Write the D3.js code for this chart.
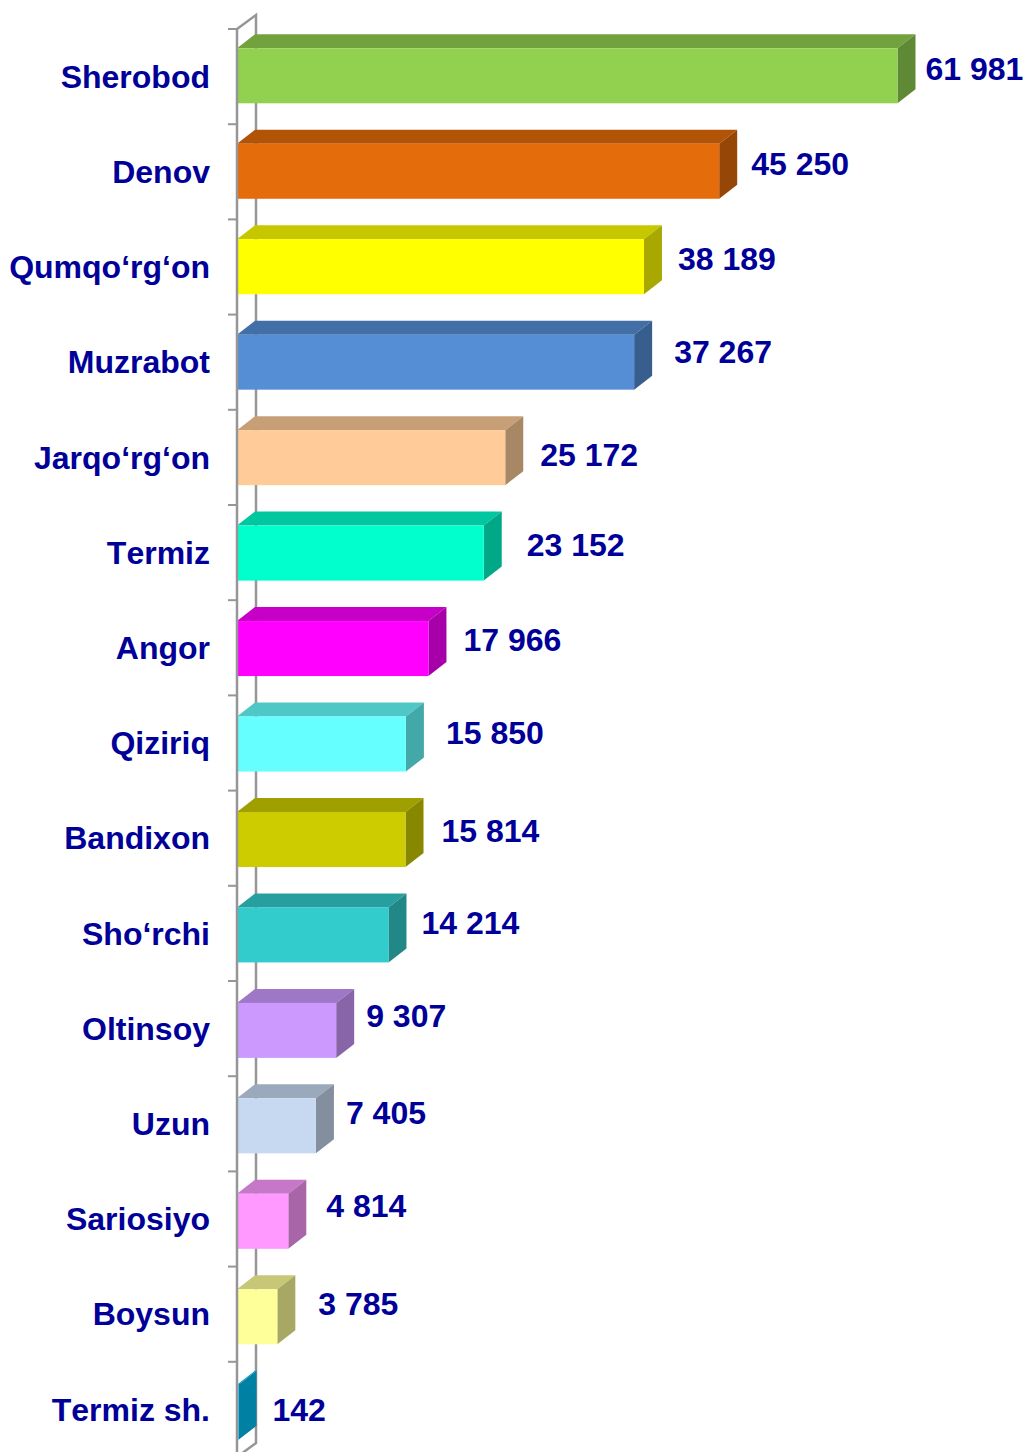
<!DOCTYPE html>
<html>
<head>
<meta charset="utf-8">
<script src="https://cdn.jsdelivr.net/npm/d3@7"></script>
<style>
html, body { margin: 0; padding: 0; background: #fff; }
svg { display: block; }
text { font-family: "Liberation Sans", Arial, sans-serif; font-weight: bold; fill: #000099; font-kerning: none; }
</style>
</head>
<body>
<div id="chart"></div>
<script>
const width = 1025;
const height = 1452;

const categories = ["Sherobod", "Denov", "Qumqo‘rg‘on", "Muzrabot", "Jarqo‘rg‘on", "Termiz", "Angor", "Qiziriq", "Bandixon", "Sho‘rchi", "Oltinsoy", "Uzun", "Sariosiyo", "Boysun", "Termiz sh."];
const values = [61981, 45250, 38189, 37267, 25172, 23152, 17966, 15850, 15814, 14214, 9307, 7405, 4814, 3785, 142];
const valueLabels = ["61 981", "45 250", "38 189", "37 267", "25 172", "23 152", "17 966", "15 850", "15 814", "14 214", "9 307", "7 405", "4 814", "3 785", "142"];
const barColors = ["#92D050", "#E46C0A", "#FFFF00", "#558ED5", "#FFCC99", "#00FFCC", "#FF00FF", "#66FFFF", "#CCCC00", "#33CCCC", "#CC99FF", "#C6D9F1", "#FF99FF", "#FFFF99", "#00C2F5"];

// the value labels were dragged by hand in the original, so each has its own nudge
const labelNudgeX = [28, 32, 34, 40, 35, 43, 35, 40, 36, 33, 30, 30, 38, 41, 34];
const labelNudgeY = [-6.8, -7.3, -8.3, -10.8, -2.8, -8.3, -8.3, -11.3, -8.8, -12.3, -14.3, -13.5, -15.6, -13.3, -2.8];

const depthX = 18;
const depthY = 14;
const barHeight = 55;
const bandTop = 29;
const tickStep = 95.2;
const barStep = 95.46;
const grey = "#969696";

const svg = d3.select("#chart")
    .append("svg")
    .attr("width", width)
    .attr("height", height)
    .attr("viewBox", `0 0 ${width} ${height}`);

const x = d3.scaleLinear()
    .domain([0, 61981])
    .range([237, 897.5]);

const y = d3.scaleBand()
    .domain(categories)
    .range([bandTop, bandTop + tickStep * categories.length]);

// las barras derivan un poco respecto a las marcas del eje
const yBar = d3.scaleBand()
    .domain(categories)
    .range([48.3, 48.3 + barStep * categories.length]);

const rows = categories.map((name, i) => ({
    name: name,
    value: values[i],
    label: valueLabels[i],
    color: barColors[i],
    nudgeX: labelNudgeX[i],
    nudgeY: labelNudgeY[i]
}));

// Armazon trasero del eje
const axisX = x(0);
const axisBottom = y.range()[1];
svg.append("path")
    .attr("fill", "none")
    .attr("stroke", grey)
    .attr("stroke-width", 2.5)
    .attr("d", `M${axisX},${bandTop}L${axisX + depthX + 1},${bandTop - depthY}V${axisBottom - depthY}L${axisX},${axisBottom}`);

// Barras 3D: cara superior, lateral y frontal
const bars = svg.selectAll("g.bar")
    .data(rows)
    .enter()
    .append("g")
    .attr("class", "bar");

const barTop = d => yBar(d.name);

bars.append("path")
    .attr("fill", d => shade(d.color, 0.78))
    .attr("d", d => {
        const x0 = x(0), x1 = x(d.value), t = barTop(d);
        return `M${x0},${t}L${x0 + depthX},${t - depthY}H${x1 + depthX}L${x1},${t}Z`;
    });

bars.append("path")
    .attr("fill", d => shade(d.color, 0.66))
    .attr("d", d => {
        const x1 = x(d.value), t = barTop(d);
        return `M${x1},${t}L${x1 + depthX},${t - depthY}V${t - depthY + barHeight}L${x1},${t + barHeight}Z`;
    });

bars.append("rect")
    .attr("fill", d => d.color)
    .attr("x", x(0))
    .attr("y", barTop)
    .attr("width", d => x(d.value) - x(0))
    .attr("height", barHeight);

// Linea frontal y marcas, por encima de las barras
const front = svg.append("g")
    .attr("stroke", grey)
    .attr("fill", "none");

front.append("line")
    .attr("stroke-width", 2.5)
    .attr("x1", axisX)
    .attr("x2", axisX)
    .attr("y1", bandTop)
    .attr("y2", axisBottom);

front.selectAll("line.tick")
    .data(categories.concat("end"))
    .enter()
    .append("line")
    .attr("class", "tick")
    .attr("stroke-width", 2)
    .attr("x1", axisX - 9)
    .attr("x2", axisX)
    .attr("y1", (d, i) => bandTop + i * y.step())
    .attr("y2", (d, i) => bandTop + i * y.step());

// Etiquetas
svg.selectAll("text.cat")
    .data(rows)
    .enter()
    .append("text")
    .attr("class", "cat")
    .attr("x", 210)
    .attr("y", d => y(d.name) + y.bandwidth() / 2)
    .attr("dy", "0.35em")
    .attr("text-anchor", "end")
    .attr("font-size", 32)
    .text(d => d.name);

svg.selectAll("text.val")
    .data(rows)
    .enter()
    .append("text")
    .attr("class", "val")
    .attr("x", d => x(d.value) + d.nudgeX)
    .attr("y", d => barTop(d) + barHeight / 2 + d.nudgeY)
    .attr("dy", "0.35em")
    .attr("font-size", 32)
    .text(d => d.label);

function shade(color, k) {
    const c = d3.rgb(color);
    return d3.rgb(c.r * k, c.g * k, c.b * k).formatHex();
}
</script>
</body>
</html>
